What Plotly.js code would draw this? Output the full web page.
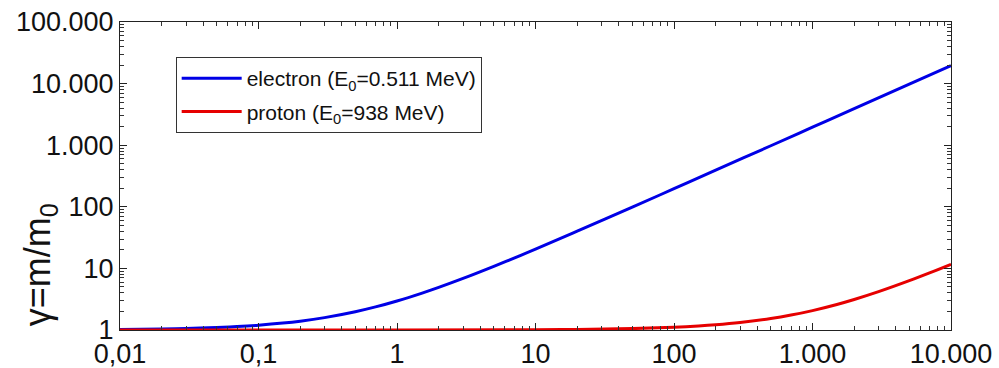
<!DOCTYPE html>
<html>
<head>
<meta charset="utf-8">
<script src="https://cdn.plot.ly/plotly-3.0.1.min.js"></script>
<style>html,body{margin:0;padding:0;background:#fff;}</style>
</head>
<body>
<div id="chart" style="width:999px;height:368px;"></div>
<script>
// Kinetic energy (MeV) and Lorentz factor
const electronT = [0.01,0.02,0.03,0.05,0.07,0.1,0.15,0.2,0.3,0.5,0.7,1,1.5,2,3,5,7,10,20,50,100,200,500,1000,2000,5000,10000];
const electronGamma = [1.02,1.039,1.059,1.098,1.137,1.196,1.294,1.391,1.587,1.979,2.37,2.957,3.935,4.914,6.871,10.79,14.7,20.57,40.14,98.85,196.7,392.4,979.5,1958,3915,9786,19570];
const protonT = [0.01,1,10,20,50,100,150,200,300,500,700,1000,1500,2000,3000,5000,7000,10000];
const protonGamma = [1.0,1.001,1.011,1.021,1.053,1.107,1.16,1.213,1.32,1.533,1.746,2.066,2.599,3.132,4.198,6.33,8.463,11.66];
const seriesNames = ['electron (E<sub>0</sub>=0.511 MeV)', 'proton (E<sub>0</sub>=938 MeV)'];
const xTickVals = [0.01,0.1,1,10,100,1000,10000];
const xTickText = ['0,01','0,1','1','10','100','1.000','10.000'];
const yTickVals = [1,10,100,1000,10000,100000];
const yTickText = ['1','10','100','1.000','10.000','100.000'];

function minorVals(lo, hi) {
  const out = [];
  for (let e = lo; e < hi; e++) for (let m = 2; m <= 9; m++) out.push(m * Math.pow(10, e));
  return out;
}

const FONT = 'Liberation Sans, Arial, sans-serif';

const traces = [
  {x: electronT, y: electronGamma, name: seriesNames[0], type: 'scatter', mode: 'lines',
   legendgroup: 'e', line: {color: '#0000e6', width: 3, shape: 'spline'}},
  {x: protonT, y: protonGamma, name: seriesNames[1], type: 'scatter', mode: 'lines',
   legendgroup: 'p', line: {color: '#e60000', width: 3, shape: 'spline'}},
  // invisible copy hosting the minor-tick overlay axes
  {x: protonT, y: protonGamma, xaxis: 'x2', yaxis: 'y2', type: 'scatter', mode: 'lines',
   opacity: 0, showlegend: false, hoverinfo: 'skip', line: {width: 0}}
];

const axisCommon = {
  type: 'log', showline: true, linecolor: '#222', linewidth: 1, mirror: 'ticks',
  ticks: 'inside', ticklen: 7, tickwidth: 1, tickcolor: '#222', showgrid: false, zeroline: false,
  tickfont: {family: FONT, size: 27, color: '#111'}
};
const minorCommon = {
  type: 'log', showline: false, ticks: 'inside', ticklen: 4, tickwidth: 1, tickcolor: '#333',
  showgrid: false, zeroline: false, showticklabels: false, tickmode: 'array', mirror: 'ticks'
};

const layout = {
  width: 999, height: 368,
  margin: {l: 120, r: 48, t: 22, b: 38},
  paper_bgcolor: '#fff', plot_bgcolor: '#fff',
  showlegend: true,
  legend: {x: 0.067, y: 0.886, xanchor: 'left', yanchor: 'top',
    bordercolor: '#333', borderwidth: 1, bgcolor: '#fff',
    font: {family: FONT, size: 21, color: '#111'},
    itemwidth: 60, tracegroupgap: 3},
  xaxis: Object.assign({}, axisCommon, {
    range: [-2, 4], tickmode: 'array', tickvals: xTickVals, ticktext: xTickText
  }),
  yaxis: Object.assign({}, axisCommon, {
    range: [0, 5], tickmode: 'array', tickvals: yTickVals, ticktext: yTickText
  }),
  xaxis2: Object.assign({}, minorCommon, {overlaying: 'x', side: 'bottom', range: [-2, 4], tickvals: minorVals(-2, 4)}),
  yaxis2: Object.assign({}, minorCommon, {overlaying: 'y', side: 'left', range: [0, 5], tickvals: minorVals(0, 5)}),
  annotations: [{
    text: '\u03b3=m/m<sub>0</sub>', textangle: -90, xref: 'paper', yref: 'paper',
    x: -0.096, y: 0.211, xanchor: 'center', yanchor: 'middle', showarrow: false,
    font: {family: FONT, size: 36, color: '#111'}
  }]
};

Plotly.newPlot('chart', traces, layout, {displayModeBar: false, staticPlot: true});
</script>
</body>
</html>
